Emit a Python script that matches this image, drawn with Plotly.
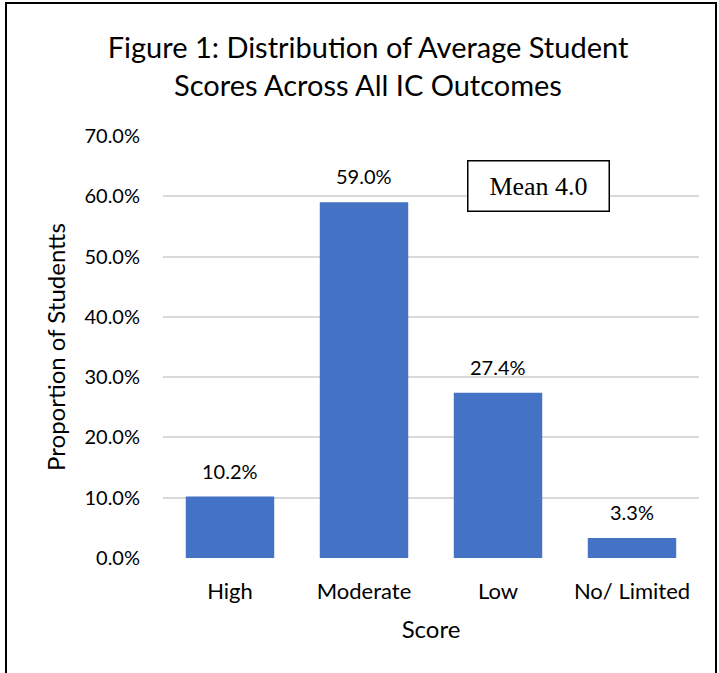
import plotly.graph_objects as go

categories = ["High", "Moderate", "Low", "No/ Limited"]
values = [10.2, 59.0, 27.4, 3.3]
y_ticks = [0, 10, 20, 30, 40, 50, 60, 70]
y_tick_labels = [f"{v:.1f}%" for v in y_ticks]

W, H = 719, 673
ML, MR, MT, MB = 163, 20, 136, 115
PW, PH = W - ML - MR, H - MT - MB

def px_x(px):
    return (px - ML) / PW

def px_y(py):
    return (H - MB - py) / PH

FONT = "Lato"
BLACK = "#000000"

fig = go.Figure(
    go.Bar(
        x=categories,
        y=values,
        marker=dict(color="#4472C4", line=dict(width=0)),
        width=0.66,
        hoverinfo="x+y",
    )
)

for c, v in zip(categories, values):
    fig.add_annotation(
        x=c,
        y=v,
        xref="x",
        yref="y",
        text=f"{v:.1f}%",
        showarrow=False,
        yanchor="bottom",
        yshift=12,
        font=dict(family=FONT, size=20, color=BLACK),
    )

fig.update_layout(
    width=W,
    height=H,
    margin=dict(l=ML, r=MR, t=MT, b=MB),
    paper_bgcolor="white",
    plot_bgcolor="white",
    showlegend=False,
    title=dict(
        text="Figure 1: Distribution of Average Student<br>Scores Across All IC Outcomes",
        x=368 / W,
        xanchor="center",
        y=1 - 58 / H,
        yanchor="middle",
        font=dict(family=FONT, size=29, color=BLACK),
    ),
    font=dict(family=FONT, color=BLACK),
)

fig.update_yaxes(
    range=[0, 70],
    tickvals=y_ticks,
    ticktext=y_tick_labels,
    showgrid=True,
    gridcolor="#D9D9D9",
    gridwidth=1.5,
    zeroline=False,
    showline=False,
    ticks="",
    ticklabelstandoff=22,
    tickfont=dict(family=FONT, size=20, color=BLACK),
    title=dict(text="Proportion of Studentts", font=dict(family=FONT, size=24, color=BLACK), standoff=12),
)

fig.update_xaxes(
    showgrid=False,
    showline=False,
    ticks="",
    ticklabelstandoff=18,
    tickfont=dict(family=FONT, size=22, color=BLACK),
    title=dict(text="Score", font=dict(family=FONT, size=24, color=BLACK), standoff=18),
)

fig.add_annotation(
    text="Mean 4.0",
    xref="paper",
    yref="paper",
    x=px_x(538),
    y=px_y(186),
    xanchor="center",
    yanchor="middle",
    showarrow=False,
    font=dict(family="Liberation Serif", size=26, color=BLACK),
    bgcolor="white",
    bordercolor=BLACK,
    borderwidth=1.5,
    borderpad=2,
    width=136,
    height=45,
)

fig.add_shape(
    type="rect",
    xref="paper",
    yref="paper",
    x0=px_x(6),
    x1=px_x(716),
    y0=px_y(690),
    y1=px_y(3),
    line=dict(color=BLACK, width=2),
    fillcolor="rgba(0,0,0,0)",
    layer="above",
)

fig.write_html("out.html")
